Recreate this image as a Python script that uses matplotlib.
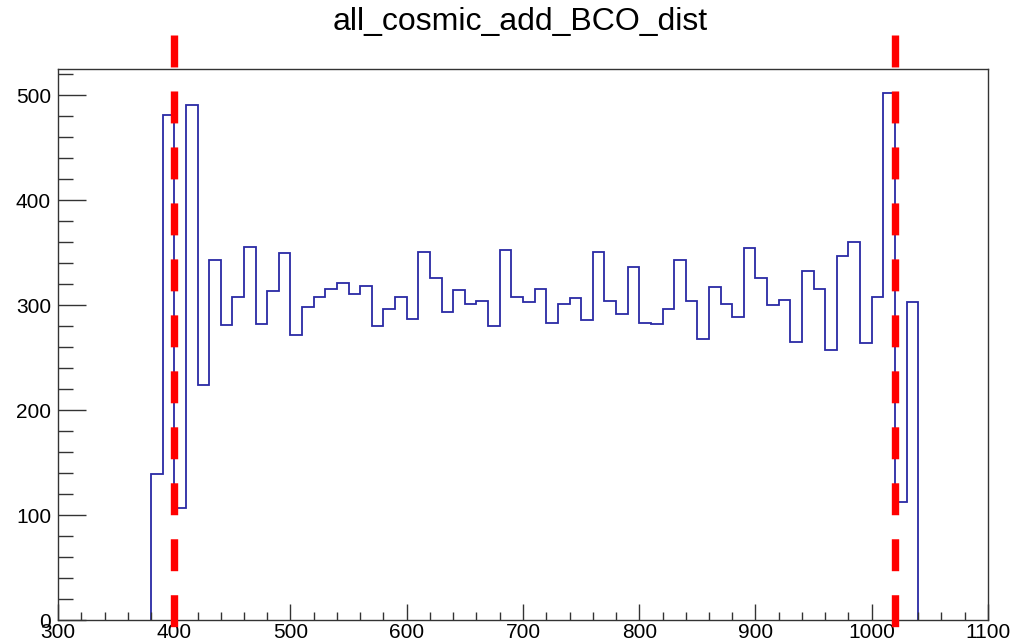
import numpy as np
import matplotlib
matplotlib.use("Agg")
import matplotlib.pyplot as plt
from matplotlib.ticker import MultipleLocator

plt.rcParams["font.family"] = ["Liberation Sans", "DejaVu Sans"]

# BCO histogram, 10-wide bins from 380 to 1040
bin_edges = np.arange(380, 1041, 10)
counts = [
    139, 481, 107, 491, 224, 343, 281, 308, 355, 282,
    313, 350, 272, 298, 308, 315, 321, 311, 318, 280,
    296, 308, 287, 351, 326, 293, 314, 301, 304, 280,
    353, 308, 303, 315, 283, 301, 307, 286, 351, 304,
    292, 336, 283, 282, 296, 343, 304, 268, 317, 301,
    289, 354, 326, 300, 305, 265, 333, 315, 257, 347,
    360, 264, 308, 502, 112, 303,
]
cut_lines = [400, 1020]
title = "all_cosmic_add_BCO_dist"

fig = plt.figure(figsize=(10.12, 6.43), dpi=100)
ax = fig.add_axes([58 / 1012, 23 / 643, 930 / 1012, 551 / 643])

ax.stairs(counts, bin_edges, color="#2a2aa5", linewidth=1.3, fill=False)

# red dashed cut lines run past the frame, like the TLine in the original
lw = 5.3
for xc in cut_lines:
    ax.plot([xc, xc], [557, -45], color="red", linewidth=lw,
            linestyle=(0, (23 / lw, 17.3 / lw)), clip_on=False, zorder=5)

ax.set_xlim(300, 1100)
ax.set_ylim(0, 525)
ax.xaxis.set_major_locator(MultipleLocator(100))
ax.xaxis.set_minor_locator(MultipleLocator(20))
ax.yaxis.set_major_locator(MultipleLocator(100))
ax.yaxis.set_minor_locator(MultipleLocator(20))

ax.tick_params(axis="both", which="both", direction="in", top=False, right=False,
               labelsize=15, width=1.0, color="#333333")
ax.tick_params(axis="x", which="major", length=11.5, pad=2)
ax.tick_params(axis="x", which="minor", length=5.8)
ax.tick_params(axis="y", which="major", length=20, pad=5)
ax.tick_params(axis="y", which="minor", length=10.8)
for sp in ax.spines.values():
    sp.set_linewidth(1.0)
    sp.set_color("#333333")

fig.text(520 / 1012, 1 - 22 / 643, title, ha="center", va="center", fontsize=23)

fig.savefig("out.png", dpi=100)
